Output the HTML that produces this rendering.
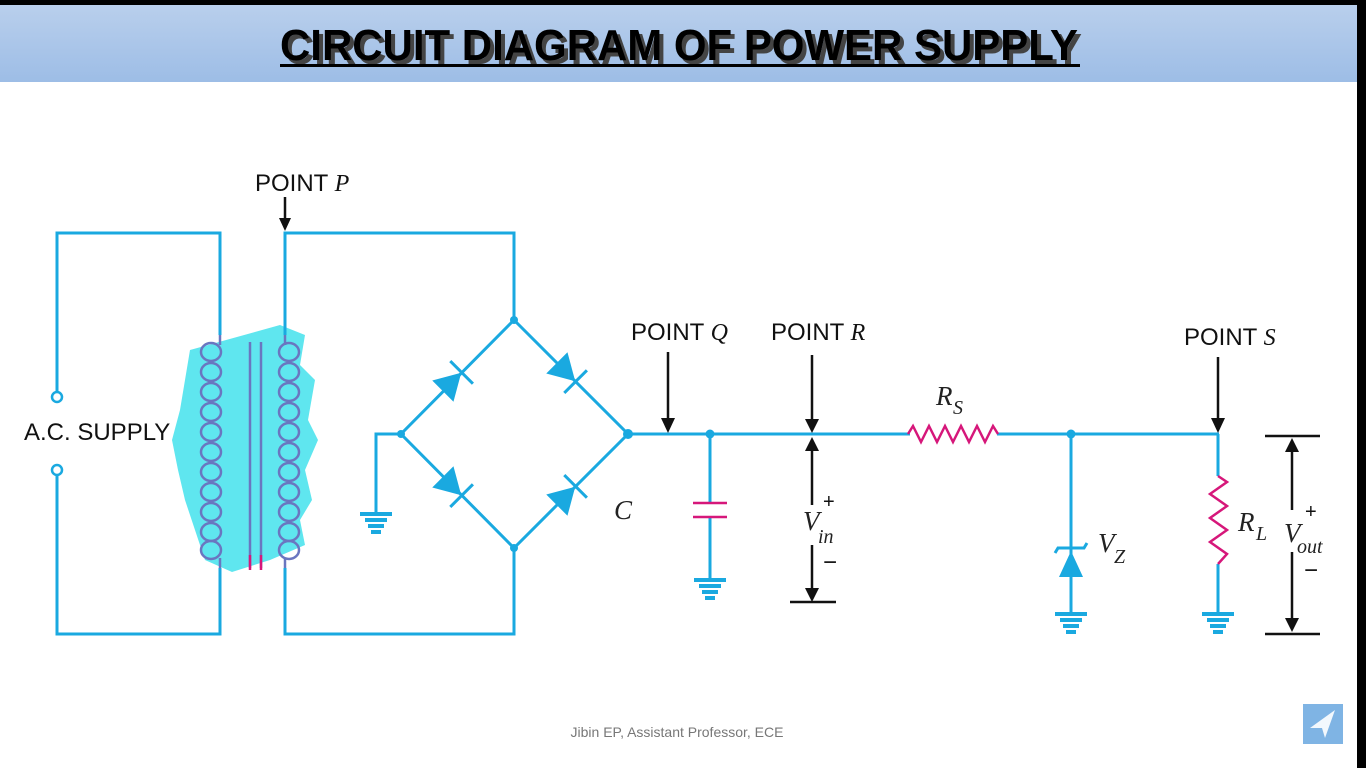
<!DOCTYPE html>
<html><head><meta charset="utf-8"><style>
html,body{margin:0;padding:0;background:#fff;width:1366px;height:768px;overflow:hidden}
svg{display:block}
</style></head><body>
<svg width="1366" height="768" viewBox="0 0 1366 768" xmlns="http://www.w3.org/2000/svg">
<defs>
<linearGradient id="tb" x1="0" y1="0" x2="0" y2="1">
<stop offset="0" stop-color="#b9cfec"/><stop offset="1" stop-color="#9dbde6"/>
</linearGradient>
<g id="gnd" fill="#1aa9e0">
<rect x="-16" y="0" width="32" height="4"/>
<rect x="-11" y="6" width="22" height="4"/>
<rect x="-8" y="12" width="16" height="4"/>
<rect x="-5" y="18" width="10" height="4"/>
</g>
</defs>
<rect x="0" y="0" width="1366" height="768" fill="#fff"/>
<rect x="0" y="0" width="1366" height="5" fill="#000"/>
<rect x="1357" y="0" width="9" height="768" fill="#000"/>
<rect x="0" y="5" width="1357" height="77" fill="url(#tb)"/>
<text x="282" y="62" font-family="Liberation Sans, sans-serif" font-weight="bold" font-size="44" fill="#444" textLength="798" lengthAdjust="spacingAndGlyphs" transform="translate(2,2)">CIRCUIT DIAGRAM OF POWER SUPPLY</text>
<text x="280" y="60" font-family="Liberation Sans, sans-serif" font-weight="bold" font-size="44" fill="#000" textLength="798" lengthAdjust="spacingAndGlyphs">CIRCUIT DIAGRAM OF POWER SUPPLY</text>
<rect x="280" y="64" width="800" height="3" fill="#000"/>

<path d="M190 350 L280 325 L305 335 L300 365 L315 380 L308 420 L318 440 L305 470 L312 500 L300 520 L305 545 L270 560 L232 572 L205 560 L195 530 L185 500 L178 470 L172 440 L180 410 L185 380 Z" fill="#5fe6ef"/>

<g fill="none" stroke="#1aa9e0" stroke-width="3">
<polyline points="57,392 57,233 220,233 220,335"/>
<polyline points="57,475 57,634 220,634 220,568"/>
<polyline points="285,335 285,233 514,233 514,320"/>
<polyline points="285,568 285,634 514,634 514,548"/>
<polygon points="514,320 628,434 514,548 401,434"/>
<polyline points="401,434 376,434 376,512"/>
<line x1="628" y1="434" x2="910" y2="434"/>
<line x1="997" y1="434" x2="1219" y2="434"/>
<line x1="710" y1="434" x2="710" y2="503"/>
<line x1="710" y1="517" x2="710" y2="578"/>
<line x1="1071" y1="434" x2="1071" y2="612"/>
<line x1="1218" y1="434" x2="1218" y2="476"/>
<line x1="1218" y1="564" x2="1218" y2="612"/>
</g>
<circle cx="57" cy="397" r="5" fill="#fff" stroke="#1aa9e0" stroke-width="2.5"/>
<circle cx="57" cy="470" r="5" fill="#fff" stroke="#1aa9e0" stroke-width="2.5"/>
<g fill="#1aa9e0">
<circle cx="514" cy="320" r="4"/><circle cx="514" cy="548" r="4"/>
<circle cx="401" cy="434" r="4"/><circle cx="628" cy="434" r="5"/>
<circle cx="710" cy="434" r="4.5"/><circle cx="1071" cy="434" r="4.5"/>
<use href="#gnd" x="376" y="512"/>
<use href="#gnd" x="710" y="578"/>
<use href="#gnd" x="1071" y="612"/>
<use href="#gnd" x="1218" y="612"/>
<g transform="translate(457,377) rotate(-45)"><polygon points="-20,-15 -20,15 6,0"/><rect x="5" y="-16" width="3" height="32"/></g>
<g transform="translate(571,377) rotate(45)"><polygon points="-20,-15 -20,15 6,0"/><rect x="5" y="-16" width="3" height="32"/></g>
<g transform="translate(457,491) rotate(45)"><polygon points="-20,-15 -20,15 6,0"/><rect x="5" y="-16" width="3" height="32"/></g>
<g transform="translate(571,491) rotate(-45)"><polygon points="-20,-15 -20,15 6,0"/><rect x="5" y="-16" width="3" height="32"/></g>
<polygon points="1059,577 1083,577 1071,551"/>
</g>
<path d="M1055 553 L1058 548 L1084 548 L1087 543" fill="none" stroke="#1aa9e0" stroke-width="3"/>

<g fill="none" stroke="#6a76c0" stroke-width="2.5">
<g id="coil">
<ellipse cx="211" cy="352" rx="10" ry="9"/><ellipse cx="211" cy="372" rx="10" ry="9"/>
<ellipse cx="211" cy="392" rx="10" ry="9"/><ellipse cx="211" cy="412" rx="10" ry="9"/>
<ellipse cx="211" cy="432" rx="10" ry="9"/><ellipse cx="211" cy="452" rx="10" ry="9"/>
<ellipse cx="211" cy="472" rx="10" ry="9"/><ellipse cx="211" cy="492" rx="10" ry="9"/>
<ellipse cx="211" cy="512" rx="10" ry="9"/><ellipse cx="211" cy="532" rx="10" ry="9"/>
<ellipse cx="211" cy="550" rx="10" ry="9"/>
</g>
<use href="#coil" x="78"/>
<line x1="250" y1="342" x2="250" y2="568"/>
<line x1="261" y1="342" x2="261" y2="568"/>
<line x1="220" y1="335" x2="220" y2="345"/><line x1="220" y1="558" x2="220" y2="568"/>
<line x1="285" y1="335" x2="285" y2="345"/><line x1="285" y1="558" x2="285" y2="568"/>
</g>
<g stroke="#d6177a" stroke-width="2.5" fill="none">
<line x1="250" y1="555" x2="250" y2="570"/><line x1="261" y1="555" x2="261" y2="570"/>
<line x1="693" y1="503" x2="727" y2="503"/><line x1="693" y1="517" x2="727" y2="517"/>
<polyline points="908,434 913,426 921,442 929,426 937,442 945,426 953,442 961,426 969,442 977,426 985,442 993,426 998,434"/>
<polyline points="1218,476 1227,482 1210,494 1227,506 1210,518 1227,530 1210,542 1227,554 1218,564"/>
</g>

<g stroke="#111" stroke-width="2.5" fill="none">
<line x1="285" y1="197" x2="285" y2="220"/>
<line x1="668" y1="352" x2="668" y2="420"/>
<line x1="812" y1="355" x2="812" y2="420"/>
<line x1="812" y1="450" x2="812" y2="505"/>
<line x1="812" y1="545" x2="812" y2="590"/>
<line x1="790" y1="602" x2="836" y2="602"/>
<line x1="1218" y1="357" x2="1218" y2="420"/>
<line x1="1265" y1="436" x2="1320" y2="436"/>
<line x1="1265" y1="634" x2="1320" y2="634"/>
<line x1="1292" y1="450" x2="1292" y2="510"/>
<line x1="1292" y1="552" x2="1292" y2="620"/>
</g>
<g fill="#111">
<polygon points="279,218 291,218 285,231"/>
<polygon points="661,418 675,418 668,433"/>
<polygon points="805,419 819,419 812,433"/>
<polygon points="805,451 819,451 812,437"/>
<polygon points="805,588 819,588 812,602"/>
<polygon points="1211,418 1225,418 1218,433"/>
<polygon points="1285,452 1299,452 1292,438"/>
<polygon points="1285,618 1299,618 1292,632"/>
</g>

<g font-family="Liberation Sans, sans-serif" font-size="24" fill="#111">
<text x="255" y="191">POINT <tspan font-family="Liberation Serif, serif" font-style="italic">P</tspan></text>
<text x="24" y="440">A.C. SUPPLY</text>
<text x="631" y="340">POINT <tspan font-family="Liberation Serif, serif" font-style="italic">Q</tspan></text>
<text x="771" y="340">POINT <tspan font-family="Liberation Serif, serif" font-style="italic">R</tspan></text>
<text x="1184" y="345">POINT <tspan font-family="Liberation Serif, serif" font-style="italic">S</tspan></text>
<text x="823" y="508" font-size="20">+</text>
<text x="823" y="570" font-size="24">−</text>
<text x="1305" y="518" font-size="20">+</text>
<text x="1304" y="578" font-size="24">−</text>
</g>
<g font-family="Liberation Serif, serif" font-style="italic" font-size="27" fill="#222">
<text x="614" y="519">C</text>
<text x="803" y="530">V</text><text x="818" y="543" font-size="20">in</text>
<text x="936" y="405">R</text><text x="953" y="414" font-size="20">S</text>
<text x="1098" y="552">V</text><text x="1114" y="563" font-size="20">Z</text>
<text x="1238" y="531">R</text><text x="1256" y="540" font-size="20">L</text>
<text x="1284" y="542">V</text><text x="1297" y="553" font-size="20">out</text>
</g>
<text x="677" y="737" text-anchor="middle" font-family="Liberation Sans, sans-serif" font-size="14" fill="#777">Jibin EP, Assistant Professor, ECE</text>
<rect x="1303" y="704" width="40" height="40" fill="#7fb4e4"/>
<polygon points="1335,710 1310,728 1322,728 1325,738" fill="#fff" opacity="0.9"/>
</svg>
</body></html>
